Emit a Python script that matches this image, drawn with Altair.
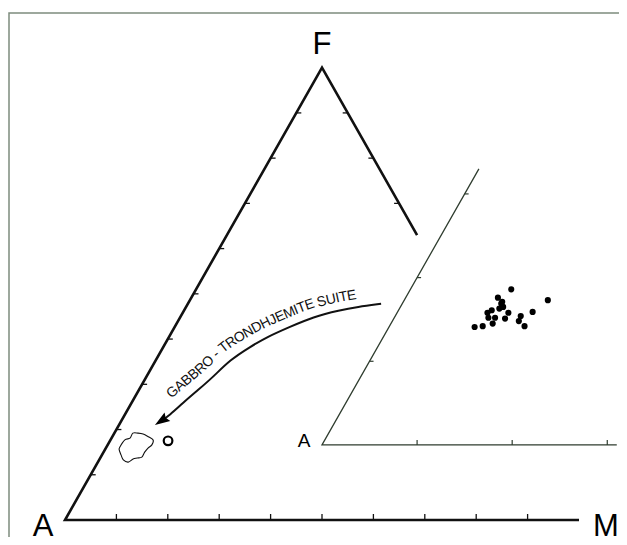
import math
import altair as alt
import pandas as pd

# ---------------- data (compositions in %, A = 100 - F - M) ----------------
suite_F = [18.6, 17.3, 17.6, 16.9, 16.5, 17.1, 16.1, 15.8, 16.3, 15.8, 15.2, 15.2,
           15.1, 15.4, 15.9, 14.8, 14.1, 14.2, 14.5, 14.2]
suite_M = [10.6, 15.1, 9.7, 10.4, 10.8, 10.4, 9.8, 9.5, 10.5, 11.7, 10.6, 9.9,
           11.7, 13.2, 14.2, 13.3, 9.0, 9.8, 10.7, 14.2]
mean_F = [17.5]
mean_M = [11.3]
field_F = [16.1, 17.7, 18.1, 19.2, 19.2, 19.0, 18.4, 17.7, 16.6, 15.9, 15.0, 13.9,
           13.7, 13.5, 12.8, 13.3, 14.4, 15.5]
field_M = [2.6, 2.8, 3.6, 3.6, 4.6, 5.7, 7.0, 8.3, 8.6, 8.2, 8.0, 8.0,
           7.2, 6.5, 5.9, 4.7, 3.7, 2.8]
trend_F = [47.8, 47.1, 46.4, 44.9, 42.7, 40.5, 38.3, 35.4, 31.6, 28.7, 25.9, 23.2, 21.7, 21.0]
trend_M = [37.6, 33.3, 30.3, 25.8, 22.4, 19.1, 16.9, 14.4, 13.0, 11.5, 10.0, 8.8, 7.6, 7.0]
trend_label = "GABBRO - TRONDHJEMITE SUITE"
apex_labels = ["A", "F", "M"]
grid_pct = [10, 20, 30, 40, 50, 60, 70, 80, 90]
inset_grid_pct = [10, 20, 30]
main_side_cut_M = 37      # F-M side drawn from F down to M = 37 %
inset_base_M = 31         # inset A-M side extent
inset_side_F = 33         # inset A-F side extent

# ---------------- geometry ----------------
PX = 5.14                 # pixels per diagram unit
H = 0.88                  # triangle height ratio
A_PX = (65, 520)          # A apex on the page
W_PLOT, H_PLOT = 611, 529
INSET_ORIGIN = (50.0, 14.6)
INSET_ZOOM = 1.85


def main_xy(F, M):
    return (M + F / 2.0, H * F)


def inset_xy(F, M):
    x, y = main_xy(F, M)
    return (INSET_ORIGIN[0] + INSET_ZOOM * x, INSET_ORIGIN[1] + INSET_ZOOM * y)


XDOM = [(8 - A_PX[0]) / PX, (8 + W_PLOT - A_PX[0]) / PX]
YDOM = [(A_PX[1] - (8 + H_PLOT)) / PX, (A_PX[1] - 8) / PX]
xs = alt.Scale(domain=XDOM, nice=False, zero=False)
ys = alt.Scale(domain=YDOM, nice=False, zero=False)
XE = alt.X("x:Q", scale=xs, axis=None)
YE = alt.Y("y:Q", scale=ys, axis=None)


def path_df(pts):
    return pd.DataFrame({"x": [p[0] for p in pts], "y": [p[1] for p in pts],
                         "i": list(range(len(pts)))})


def seg_df(segs):
    return pd.DataFrame([{"x": a[0], "y": a[1], "x2": b[0], "y2": b[1]} for a, b in segs])


def line_layer(pts, color, width, interp="linear"):
    return alt.Chart(path_df(pts)).mark_line(
        color=color, strokeWidth=width, interpolate=interp, strokeJoin="miter",
        strokeCap="butt").encode(x=XE, y=YE, order=alt.Order("i:Q"))


def rule_layer(segs, color, width):
    return alt.Chart(seg_df(segs)).mark_rule(color=color, strokeWidth=width).encode(
        x=XE, y=YE, x2="x2:Q", y2="y2:Q")


layers = []

# frame (top + left border of the figure)
fx = (9 - A_PX[0]) / PX
fy = (A_PX[1] - 13) / PX
layers.append(line_layer([(fx, YDOM[0]), (fx, fy), (XDOM[1], fy)], "#7d8c7d", 1.5))

# main triangle
layers.append(line_layer([main_xy(100 - main_side_cut_M, main_side_cut_M), main_xy(100, 0),
                          main_xy(0, 0), main_xy(0, 100)], "#111111", 2.6))
TL = 6 / PX
TS = 5 / PX
ticks = []
for p in grid_pct:
    x, y = main_xy(0, p)
    ticks.append(((x, y), (x, y + TL)))
    x, y = main_xy(p, 0)
    ticks.append(((x, y), (x + TS, y)))
for p in grid_pct:
    if p < main_side_cut_M:
        x, y = main_xy(100 - p, p)
        ticks.append(((x, y), (x - TS, y)))
layers.append(rule_layer(ticks, "#111111", 1.3))

# inset triangle
layers.append(line_layer([inset_xy(inset_side_F, 0), inset_xy(0, 0), inset_xy(0, inset_base_M)],
                         "#2f3d2f", 1.3))
iticks = []
for p in inset_grid_pct:
    x, y = inset_xy(0, p)
    iticks.append(((x, y), (x, y + 5 / PX)))
    x, y = inset_xy(p, 0)
    iticks.append(((x, y), (x + 4 / PX, y)))
layers.append(rule_layer(iticks, "#2f3d2f", 1.2))

# inset data points
dots = pd.DataFrame([inset_xy(f, m) for f, m in zip(suite_F, suite_M)], columns=["x", "y"])
layers.append(alt.Chart(dots).mark_circle(color="#000000", size=38, opacity=1).encode(x=XE, y=YE))

# mean composition (open circle)
mean = pd.DataFrame([main_xy(f, m) for f, m in zip(mean_F, mean_M)], columns=["x", "y"])
layers.append(alt.Chart(mean).mark_point(shape="circle", filled=False, color="#000000",
                                         size=75, strokeWidth=2.2, opacity=1).encode(x=XE, y=YE))

# trondhjemite field (closed outline)
field_pts = [main_xy(f, m) for f, m in zip(field_F, field_M)]
layers.append(line_layer(field_pts, "#111111", 1.1, interp="cardinal-closed"))

# trend arrow
trend_pts = [main_xy(f, m) for f, m in zip(trend_F, trend_M)]
layers.append(line_layer(trend_pts[:-1], "#111111", 2.0, interp="basis"))
tip = trend_pts[-1]
prev = trend_pts[-3]
dx, dy = tip[0] - prev[0], tip[1] - prev[1]
dn = math.hypot(dx, dy)
ux, uy = dx / dn, dy / dn
HEAD = 15.0                 # arrow head length in px
head_scale = HEAD / 1.8     # half side of the symbol box
head = pd.DataFrame({"x": [tip[0] - ux * head_scale / PX], "y": [tip[1] - uy * head_scale / PX],
                     "ang": [math.degrees(math.atan2(dx, dy)) % 360]})
layers.append(alt.Chart(head).mark_point(
    shape="M0,-1L0.62,0.8L0,0.55L-0.62,0.8Z", filled=True, color="#000000",
    size=(2 * head_scale) ** 2, opacity=1, strokeWidth=0).encode(
    x=XE, y=YE, angle=alt.Angle("ang:Q", scale=None)))

# curved label along the trend
ADV = {'G': 778, 'A': 667, 'B': 667, 'R': 722, 'O': 778, ' ': 278, '-': 333, 'T': 611,
       'N': 722, 'D': 722, 'H': 722, 'J': 500, 'E': 667, 'M': 833, 'I': 278, 'S': 667, 'U': 722}
FS = 14
rev = trend_pts[::-1]
cum = [0.0]
for a, b in zip(rev[:-1], rev[1:]):
    cum.append(cum[-1] + math.hypot(b[0] - a[0], b[1] - a[1]))


def at(s):
    s = max(0.0, min(cum[-1], s))
    for k in range(len(cum) - 1):
        if cum[k + 1] >= s:
            t = (s - cum[k]) / (cum[k + 1] - cum[k])
            a, b = rev[k], rev[k + 1]
            return (a[0] + t * (b[0] - a[0]), a[1] + t * (b[1] - a[1]))
    return rev[-1]


def tangent(s, h=4.0):
    p1, p2 = at(s - h), at(s + h)
    tx, ty = p2[0] - p1[0], p2[1] - p1[1]
    n = math.hypot(tx, ty)
    return tx / n, ty / n


s_start = cum[3] - 6.0 / PX
s_end = cum[12] + 1.0 / PX
N = 800
samples = [s_start + (s_end - s_start) * j / N for j in range(N + 1)]
off_pts = []
for j, s in enumerate(samples):
    frac = j / N
    d = (15 - 3 * frac) / PX
    px_, py_ = at(s)
    tx, ty = tangent(s)
    off_pts.append((px_ - ty * d, py_ + tx * d, tx, ty))
ocum = [0.0]
for a, b in zip(off_pts[:-1], off_pts[1:]):
    ocum.append(ocum[-1] + math.hypot(b[0] - a[0], b[1] - a[1]))

natural = sum(ADV[ch] for ch in trend_label) * FS / 1000 / PX
fit = ocum[-1] / natural
chars = []
adv = 0.0
for ch in trend_label:
    w = ADV[ch] * FS / 1000 / PX * fit
    c = adv + w / 2
    adv += w
    k = 0
    while k < len(ocum) - 2 and ocum[k + 1] < c:
        k += 1
    x, y, tx, ty = off_pts[k]
    ang = (-math.degrees(math.atan2(ty, tx))) % 360
    chars.append({"x": x, "y": y, "ch": ch, "ang": ang})
chars_df = pd.DataFrame(chars)
layers.append(alt.Chart(chars_df).mark_text(font="Liberation Sans", fontSize=FS, color="#111111",
                                            align="center", baseline="middle").encode(
    x=XE, y=YE, text="ch:N", angle=alt.Angle("ang:Q", scale=None)))

# apex labels
apex_pos = {"A": main_xy(0, 0), "F": main_xy(100, 0), "M": main_xy(0, 100)}
apex_off = {"A": (-22, 16), "F": (0, -14), "M": (27, 16)}
for lab in apex_labels:
    p = apex_pos[lab]
    layers.append(alt.Chart(pd.DataFrame({"x": [p[0]], "y": [p[1]], "t": [lab]})).mark_text(
        font="Liberation Sans", fontSize=31, color="#000000", align="center",
        baseline="alphabetic", dx=apex_off[lab][0], dy=apex_off[lab][1]).encode(
        x=XE, y=YE, text="t:N"))
ia = inset_xy(0, 0)
layers.append(alt.Chart(pd.DataFrame({"x": [ia[0]], "y": [ia[1]], "t": [apex_labels[0]]})).mark_text(
    font="Liberation Sans", fontSize=19, color="#000000", align="center",
    baseline="alphabetic", dx=-18, dy=2).encode(x=XE, y=YE, text="t:N"))

chart = alt.layer(*layers).properties(
    width=W_PLOT, height=H_PLOT, padding=0, autosize="none", background="white"
).configure_view(stroke=None)

chart.save("out.html", embed_options={"renderer": "svg", "actions": False})
